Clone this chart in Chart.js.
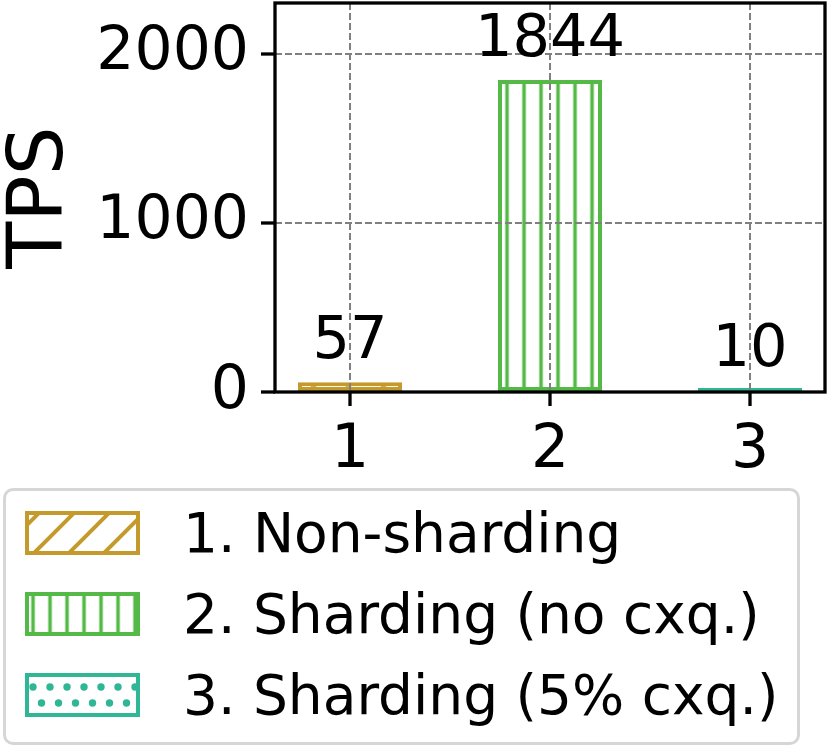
<!DOCTYPE html>
<html lang="en">
<head>
<meta charset="UTF-8">
<title>TPS</title>
<script src="https://cdn.jsdelivr.net/npm/chart.js"></script>
<style>
  body { margin: 0; background: #fff; font-family: 'DejaVu Sans', sans-serif; }
  #wrap { position: relative; width: 830px; height: 750px; }
  #tpsChart { position: absolute; left: 0; top: 0; }
  #legend {
    position: absolute; left: 3px; top: 488px; width: 797px; height: 257px;
    box-sizing: border-box; border: 3px solid #d6d6d6; border-radius: 10px;
  }
  .item { position: absolute; left: 19px; height: 44px; display: flex; align-items: center; }
  .item canvas { display: block; }
  .item span { margin-left: 43px; font-size: 55px; line-height: 44px; color: #000; white-space: nowrap; }
</style>
</head>
<body>
<div id="wrap">
  <canvas id="tpsChart" width="830" height="480"></canvas>
  <div id="legend"></div>
</div>
<script>
// data
const categories = [1, 2, 3];
const tpsValues = [57, 1844, 10];
const seriesNames = ['1. Non-sharding', '2. Sharding (no cxq.)', '3. Sharding (5% cxq.)'];
const yTicks = [0, 1000, 2000];

// styles
const barColors = ['#c49a2d', '#55b947', '#2fb795'];
const hatchKinds = ['diag', 'vert', 'dots'];
const FONT = 'DejaVu Sans';

// hatch patterns (white background + coloured hatch)
function hatchPattern(ctx, kind, color, dx, dy) {
  const c = document.createElement('canvas');
  const w = kind === 'diag' ? 35 : 17;
  const h = kind === 'diag' ? 35 : (kind === 'dots' ? 32 : 17);
  c.width = w; c.height = h;
  const g = c.getContext('2d');
  g.fillStyle = '#fff';
  g.fillRect(0, 0, w, h);
  g.strokeStyle = color;
  g.fillStyle = color;
  g.lineWidth = kind === 'diag' ? 4 : 3.5;
  if (kind === 'diag') {
    g.beginPath();
    g.moveTo(0, h); g.lineTo(w, 0);
    g.moveTo(-4, 4); g.lineTo(4, -4);
    g.moveTo(w - 4, h + 4); g.lineTo(w + 4, h - 4);
    g.stroke();
  } else if (kind === 'vert') {
    g.beginPath();
    g.moveTo(w / 2, 0); g.lineTo(w / 2, h);
    g.stroke();
  } else {
    [[0, 0], [w, 0], [0, h], [w, h], [w / 2, h / 2]].forEach(([x, y]) => {
      g.beginPath();
      g.arc(x, y, 3.7, 0, Math.PI * 2);
      g.fill();
    });
  }
  const p = ctx.createPattern(c, 'repeat');
  p.setTransform(new DOMMatrix([1, 0, 0, 1, dx, dy]));
  return p;
}

// frame around the plot + value labels above bars
const framePlugin = {
  id: 'frameAndValues',
  afterDraw(chart) {
    const {ctx, chartArea: a} = chart;
    ctx.save();
    ctx.strokeStyle = '#000';
    ctx.lineWidth = 3.3;
    ctx.strokeRect(a.left, a.top, a.right - a.left, a.bottom - a.top);

    ctx.fillStyle = '#000';
    ctx.font = '59px "' + FONT + '"';
    ctx.textAlign = 'center';
    ctx.textBaseline = 'alphabetic';
    const yScale = chart.scales.y;
    chart.getDatasetMeta(0).data.forEach((bar, i) => {
      ctx.fillText(String(tpsValues[i]), bar.x, yScale.getPixelForValue(tpsValues[i]) - 24);
    });
    ctx.restore();
  }
};

const ctx = document.getElementById('tpsChart').getContext('2d');
const barFills = hatchKinds.map((k, i) => hatchPattern(ctx, k, barColors[i], k === 'vert' ? 5.5 : 0, 0));

const gridOpts = { color: '#808080', lineWidth: 2, z: 1, offset: false, tickLength: 14, tickWidth: 3.3, tickColor: '#000' };

new Chart(ctx, {
  type: 'bar',
  data: {
    datasets: [{
      data: categories.map((c, i) => ({x: c, y: tpsValues[i]})),
      backgroundColor: barFills,
      borderColor: barColors,
      borderWidth: 4,
      borderSkipped: false,
      minBarLength: 4,
      barPercentage: 0.52,
      categoryPercentage: 1
    }]
  },
  options: {
    responsive: false,
    animation: false,
    devicePixelRatio: 1,
    layout: { padding: { top: 3, right: 5, left: 0, bottom: 0 } },
    plugins: { legend: { display: false }, tooltip: { enabled: false } },
    scales: {
      x: {
        type: 'linear',
        offset: false,
        min: 0.625,
        max: 3.375,
        afterBuildTicks: s => { s.ticks = categories.map(v => ({value: v})); },
        afterFit: s => { s.height = 88; s.paddingLeft = 0; s.paddingRight = 0; },
        grid: gridOpts,
        border: { display: false, dash: [7, 3] },
        ticks: {
          color: '#000', padding: 9, maxRotation: 0, autoSkip: false,
          font: { family: FONT, size: 60 },
          callback: v => String(v)
        }
      },
      y: {
        min: 0,
        max: 2300,
        afterBuildTicks: s => { s.ticks = yTicks.map(v => ({value: v})); },
        afterFit: s => { s.width = 275; s.paddingTop = 0; s.paddingBottom = 0; },
        grid: gridOpts,
        border: { display: false, dash: [7, 3] },
        ticks: {
          color: '#000', padding: 12,
          font: { family: FONT, size: 60 },
          callback: v => String(v)
        },
        title: {
          display: true, text: 'TPS', color: '#000',
          font: { family: FONT, size: 77, lineHeight: 1 },
          padding: { top: 3, bottom: 0 }
        }
      }
    }
  },
  plugins: [framePlugin]
});

// legend
const legend = document.getElementById('legend');
const itemTops = [20, 101, 182];
seriesNames.forEach((name, i) => {
  const item = document.createElement('div');
  item.className = 'item';
  item.style.top = itemTops[i] + 'px';
  const patch = document.createElement('canvas');
  patch.width = 115; patch.height = 44;
  const pc = patch.getContext('2d');
  const off = hatchKinds[i] === 'diag' ? [16, 0] : hatchKinds[i] === 'vert' ? [-0.5, 0] : [8, 14];
  pc.fillStyle = hatchPattern(pc, hatchKinds[i], barColors[i], off[0], off[1]);
  pc.fillRect(0, 0, 115, 44);
  pc.strokeStyle = barColors[i];
  pc.lineWidth = 4;
  pc.strokeRect(2, 2, 111, 40);
  const label = document.createElement('span');
  label.textContent = name;
  item.appendChild(patch);
  item.appendChild(label);
  legend.appendChild(item);
});
</script>
</body>
</html>
